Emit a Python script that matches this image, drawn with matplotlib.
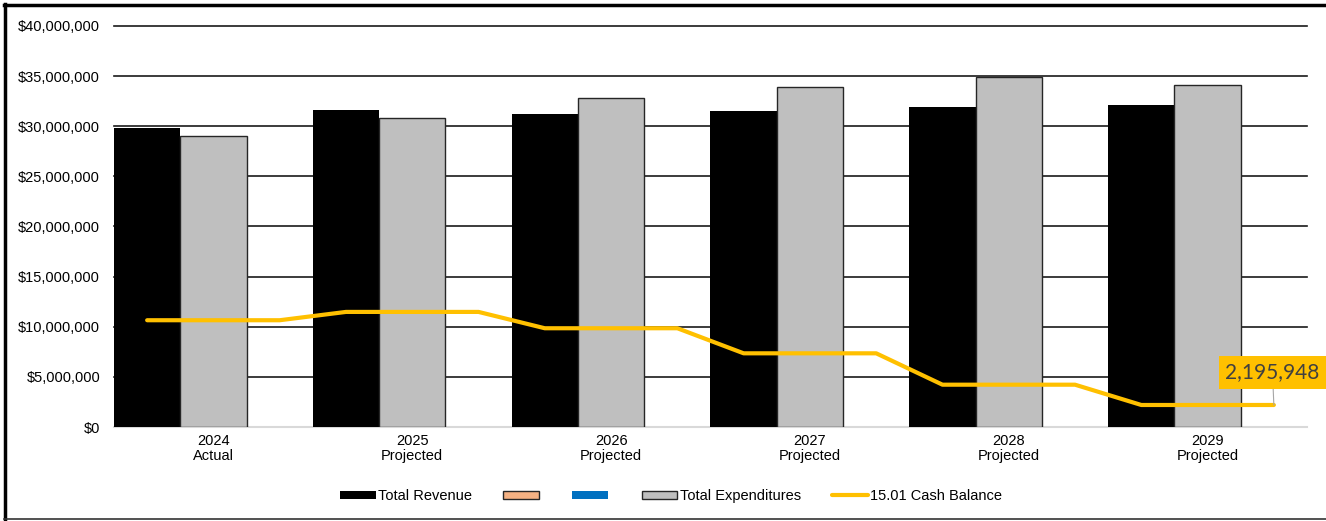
import matplotlib
matplotlib.use("Agg")
import matplotlib.pyplot as plt
from matplotlib.patches import Patch
from matplotlib.lines import Line2D
import numpy as np

plt.rcParams['font.family'] = ['Liberation Sans', 'DejaVu Sans']

years = ["2024", "2025", "2026", "2027", "2028", "2029"]
status = ["Actual", "Projected", "Projected", "Projected", "Projected", "Projected"]
total_revenue = [29780000, 31650000, 31200000, 31500000, 31900000, 32100000]
total_expenditures = [29030000, 30800000, 32800000, 33950000, 34950000, 34150000]
cash_balance = [10650000, 11480000, 9850000, 7350000, 4220000, 2195948]
y_ticks = [0, 5000000, 10000000, 15000000, 20000000, 25000000, 30000000, 35000000, 40000000]

W, H = 1326, 521
fig = plt.figure(figsize=(W / 100, H / 100), dpi=100)
ax = fig.add_axes([114 / W, 1 - 427 / H, (1307 - 114) / W, (427 - 26) / H])

n = len(years)
x = np.arange(n)
bw = 1 / 3

# gridlines
for t in y_ticks[1:]:
    ax.axhline(t, color='#1a1a1a', lw=1.2, zorder=1, clip_on=False)
ax.axhline(0, color='#d9d9d9', lw=1.5, zorder=1, clip_on=False)

ax.bar(x - 0.5, total_revenue, width=bw, align='edge', color='black',
       edgecolor='black', lw=0, zorder=2)
ax.bar(x - 0.5 + bw, total_expenditures, width=bw, align='edge', color='#bfbfbf',
       edgecolor='#262626', lw=1.0, zorder=2)

lx, ly = [], []
for i, v in enumerate(cash_balance):
    lx += [i - 1 / 3, i + 1 / 3]
    ly += [v, v]
ax.plot(lx, ly, color='#ffc000', lw=3.0, solid_capstyle='round',
        solid_joinstyle='round', zorder=3)

ax.annotate(f"{cash_balance[-1]:,}", xy=(lx[-1], ly[-1]), xytext=(-1, 23.5),
            textcoords='offset points', ha='center', va='center',
            fontsize=15, color='#404040', family=['Lato', 'DejaVu Sans'],
            bbox=dict(boxstyle='square,pad=0.3', fc='#ffc000', ec='none'),
            arrowprops=dict(arrowstyle='-', color='#a6a6a6', lw=0.8,
                            shrinkA=0, shrinkB=0),
            zorder=5, annotation_clip=False)

ax.set_xlim(-0.5, n - 0.5)
ax.set_ylim(0, 40000000)
ax.set_yticks(y_ticks)
ax.set_yticklabels(["${:,.0f}".format(t) for t in y_ticks], fontsize=10.5)
ax.set_xticks(x)
ax.set_xticklabels([f"{y}\n{s}" for y, s in zip(years, status)], fontsize=10.5,
                   linespacing=1.1)
ax.tick_params(axis='both', length=0)
ax.tick_params(axis='y', pad=10)
ax.tick_params(axis='x', pad=5)
for s in ax.spines.values():
    s.set_visible(False)

handles = [
    Patch(fc='black', ec='black', lw=0),
    Patch(fc='#f4b183', ec='#262626', lw=1),
    Patch(fc='#0070c0', ec='none'),
    Patch(fc='#bfbfbf', ec='#262626', lw=1),
    Line2D([], [], color='#ffc000', lw=3, solid_capstyle='round'),
]
labels = ["Total Revenue", "", "", "Total Expenditures", "15.01 Cash Balance"]
fig.legend(handles, labels, loc='center', bbox_to_anchor=(671 / W, 1 - 496 / H),
           ncol=5, frameon=False, fontsize=10.5, handlelength=2.45,
           handleheight=0.5, handletextpad=0.15, columnspacing=2.15,
           borderpad=0, borderaxespad=0)

# outer frame
fig.add_artist(Line2D([4 / W, 1], [1 - 5 / H, 1 - 5 / H], color='black', lw=2.5))
fig.add_artist(Line2D([5 / W, 5 / W], [1 - 4 / H, 1 - 519 / H], color='black', lw=2.5))
fig.add_artist(Line2D([4 / W, 1], [1 - 519 / H, 1 - 519 / H], color='#333333', lw=1.2))

fig.savefig("out.png", dpi=100)
